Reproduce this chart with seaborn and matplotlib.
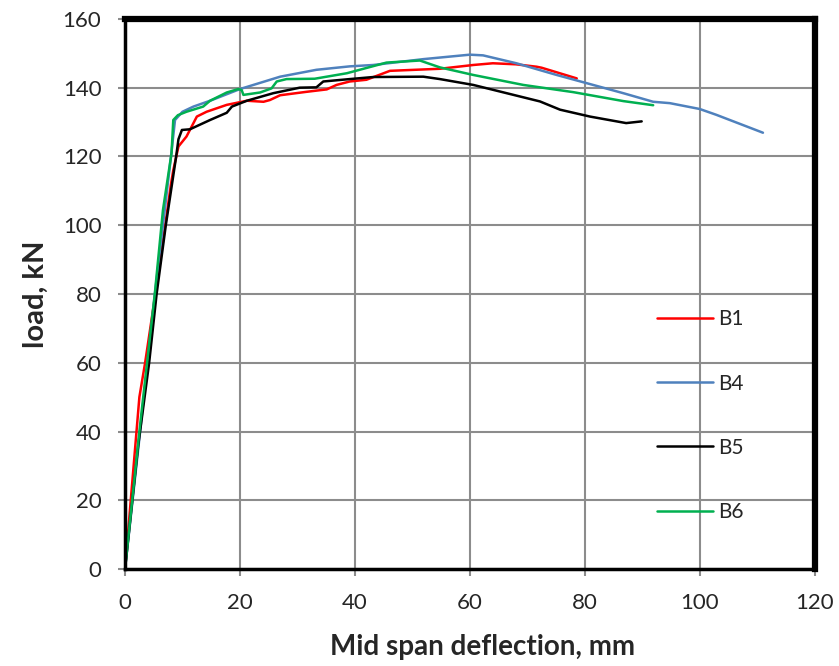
import matplotlib
matplotlib.use("Agg")
import matplotlib.pyplot as plt
import numpy as np
import pandas as pd
import seaborn as sns

sns.set_theme(style="white")
plt.rcParams['font.family'] = ['Lato', 'DejaVu Sans']

# mid span deflection (mm) and load (kN) for each beam
b1_x = [0, 1.5, 2.5, 3.5, 6.0, 8.0, 8.4, 9.3, 10.7, 12.5, 14.2, 17.7, 21.2, 24.1, 25.2, 27.0, 31.6, 35.1,
        36.8, 39.1, 42.0, 46.1, 54.8, 60.6, 64.0, 68.0, 71.6, 72.5, 78.6]
b1_y = [0, 30, 50, 60, 88, 112, 116, 122.9, 125.8, 131.6, 133, 135, 136.2, 135.9, 136.4, 137.8, 138.8, 139.5,
        140.8, 141.8, 142.3, 144.9, 145.5, 146.6, 147.1, 146.8, 146.1, 145.8, 142.7]

b4_x = [0, 2.5, 5.2, 8.0, 8.7, 10.0, 11.9, 14.8, 20.0, 27.0, 33.3, 39.1, 43.2, 51.9, 60.0, 62.3, 68.1,
        75.1, 79.7, 86.7, 91.9, 94.8, 100.0, 102.9, 111.0]
b4_y = [0, 38, 80, 120, 130.6, 133, 134.5, 136.2, 139.6, 143.2, 145.2, 146.2, 146.6, 148.3, 149.6, 149.4, 147.1,
        143.7, 141.6, 138.4, 135.9, 135.5, 133.8, 132.1, 126.9]

b5_x = [0, 2.3, 4.2, 5.5, 7.1, 8.9, 9.3, 9.9, 11.3, 14.8, 17.7, 18.6, 21.2, 25.8, 30.4, 33.3, 34.5, 39.1,
        43.2, 51.9, 54.8, 60.6, 66.4, 72.2, 75.7, 80.9, 87.2, 89.9]
b5_y = [0, 36, 60, 80, 100, 120, 125, 127.7, 127.9, 130.6, 132.7, 134.5, 136.2, 138.4, 140, 140.1, 141.8, 142.5,
        143.1, 143.2, 142.5, 140.8, 138.4, 136, 133.6, 131.6, 129.7, 130.2]

b6_x = [0, 2.5, 5.2, 6.6, 8.1, 8.4, 9.2, 10.7, 13.6, 14.8, 17.7, 19.7, 20.3, 20.6, 23.5, 25.5, 26.4, 28.1,
        33.0, 38.6, 45.5, 51.3, 54.8, 60.6, 69.3, 78.0, 86.7, 91.9]
b6_y = [0, 40, 80.3, 104.4, 121, 130.6, 132, 133, 134.5, 136.2, 138.6, 139.6, 139.3, 137.9, 138.6, 139.8, 141.8, 142.5,
        142.6, 144.2, 147.3, 147.9, 145.9, 143.7, 140.8, 138.7, 136.1, 134.9]

labels = ['B1', 'B4', 'B5', 'B6']
colors = ['#ff0000', '#4f81bd', '#000000', '#00b050']

frames = []
for lab, xs, ys in zip(labels, [b1_x, b4_x, b5_x, b6_x], [b1_y, b4_y, b5_y, b6_y]):
    frames.append(pd.DataFrame({'deflection': xs, 'load': ys, 'beam': lab}))
df = pd.concat(frames, ignore_index=True)

fig = plt.figure(figsize=(8.39, 6.66), dpi=100)
ax = fig.add_axes([0.149, 0.1456, 0.822, 0.826])

sns.lineplot(data=df, x='deflection', y='load', hue='beam', palette=colors, sort=False,
             estimator=None, units='beam', linewidth=1.8, ax=ax)

ax.set_xlim(0, 120)
ax.set_ylim(0, 160)
ax.set_xticks(range(0, 121, 20))
ax.set_yticks(range(0, 161, 20))
ax.grid(True, color='#8c8c8c', linewidth=1.5)
ax.set_axisbelow(True)
ax.tick_params(axis='both', which='major', labelsize=16, length=5, width=1.5,
               color='#8c8c8c', direction='out', bottom=True, left=True, pad=12)

for side in ['left', 'bottom']:
    ax.spines[side].set_color('#000000')
    ax.spines[side].set_linewidth(2.5)
for side in ['top', 'right']:
    ax.spines[side].set_color('#000000')
    ax.spines[side].set_linewidth(4.5)

ax.set_xlabel('Mid span deflection, mm', fontsize=20, fontweight='bold')
ax.set_ylabel('load, kN', fontsize=21, fontweight='bold', labelpad=10)
ax.xaxis.set_label_coords(0.519, -0.118)

leg = ax.legend(loc='upper left', bbox_to_anchor=(0.771, 0.472), frameon=False, fontsize=15,
                handlelength=2.7, handletextpad=0.25, labelspacing=2.12, borderpad=0, borderaxespad=0)
for h in leg.get_lines():
    h.set_linewidth(1.8)

fig.savefig('out.png', dpi=100)
